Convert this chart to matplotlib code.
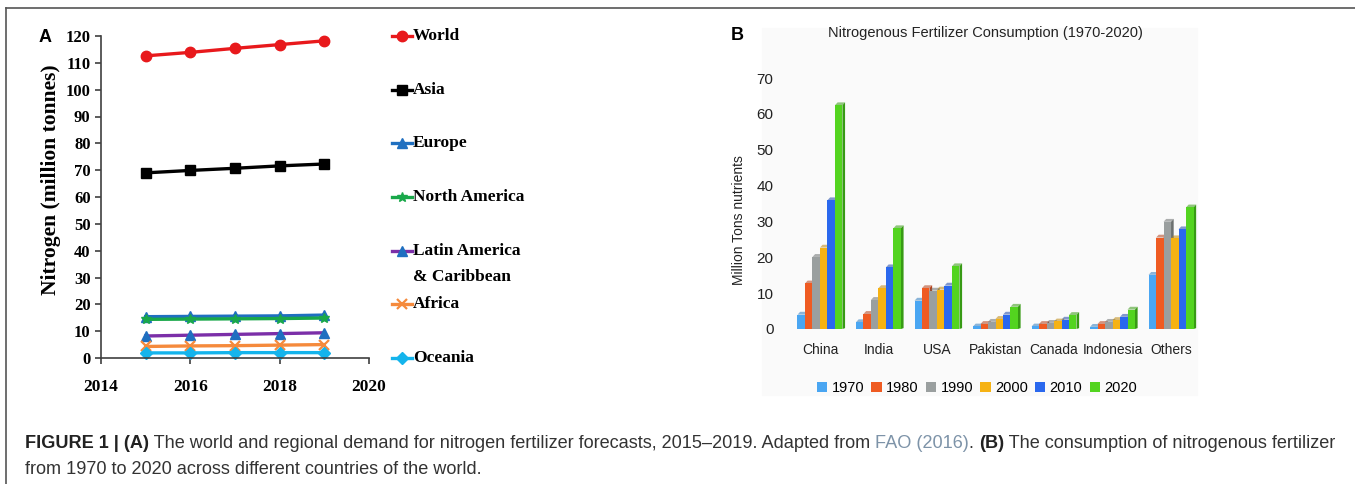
import matplotlib.pyplot as plt
import numpy as np
from matplotlib.lines import Line2D
from matplotlib.patches import Polygon, Rectangle

# panel A: regional nitrogen demand forecast (million tonnes)
years_a = [2015, 2016, 2017, 2018, 2019]
world = [112.6, 113.9, 115.4, 116.8, 118.2]
asia = [69.0, 69.9, 70.7, 71.6, 72.3]
europe = [15.4, 15.5, 15.6, 15.7, 16.0]
north_america = [14.4, 14.5, 14.6, 14.7, 14.9]
latin_america = [8.2, 8.5, 8.8, 9.1, 9.4]
africa = [4.3, 4.5, 4.6, 4.8, 5.0]
oceania = [1.9, 1.9, 2.0, 2.0, 2.0]
region_names = ["World", "Asia", "Europe", "North America",
                "Latin America\n& Caribbean", "Africa", "Oceania"]

# panel B: nitrogenous fertilizer consumption (million tons nutrients)
countries = ["China", "India", "USA", "Pakistan", "Canada", "Indonesia", "Others"]
decades = ["1970", "1980", "1990", "2000", "2010", "2020"]
c1970 = [4.0, 1.9, 7.9, 0.7, 0.7, 0.6, 15.1]
c1980 = [12.7, 4.2, 11.4, 1.4, 1.4, 1.4, 25.5]
c1990 = [20.1, 8.1, 10.7, 2.0, 1.7, 2.0, 29.9]
c2000 = [22.7, 11.4, 11.0, 2.8, 2.1, 2.5, 25.3]
c2010 = [35.9, 17.2, 12.1, 4.0, 2.6, 3.4, 27.8]
c2020 = [62.4, 28.1, 17.5, 6.2, 3.9, 5.4, 33.9]

W, H = 1355, 484
fig = plt.figure(figsize=(W / 100, H / 100), dpi=100)


def fx(px):
    return px / W


def fy(py):
    return 1 - py / H


serif = "Liberation Serif"
sans = "Liberation Sans"

# frame lines (top and left)
fig.add_artist(Line2D([fx(6), 1], [fy(8), fy(8)], color="#555555", lw=1.2))
fig.add_artist(Line2D([fx(6), fx(6)], [fy(8), 0], color="#555555", lw=1.2))

# ---------------- panel A ----------------
axa = fig.add_axes([fx(101), fy(358), fx(369) - fx(101), fy(36) - fy(358)])
styles = [
    dict(color="#e8191c", marker="o", ms=7.5, mfc="#e8191c", mec="#e8191c"),
    dict(color="black", marker="s", ms=7, mfc="black", mec="black"),
    dict(color="#1f6fc0", marker="^", ms=7.5, mfc="#1f6fc0", mec="#1f6fc0"),
    dict(color="#19a84a", marker="*", ms=7.5, mfc="#19a84a", mec="#19a84a"),
    dict(color="#7b2fa8", marker="^", ms=7.5, mfc="#1f6fc0", mec="#1f6fc0"),
    dict(color="#f58a3c", marker="x", ms=7, mfc="#f58a3c", mec="#f58a3c", mew=1.6),
    dict(color="#14b4ec", marker="D", ms=6, mfc="#14b4ec", mec="#14b4ec"),
]
series = [world, asia, europe, north_america, latin_america, africa, oceania]
for vals, st in zip(series, styles):
    axa.plot(years_a, vals, lw=2.4, clip_on=False, **st)

axa.set_xlim(2014, 2020)
axa.set_ylim(0, 120)
axa.set_xticks([2014, 2016, 2018, 2020])
axa.set_yticks(np.arange(0, 121, 10))
for s in ["top", "right"]:
    axa.spines[s].set_visible(False)
for s in ["left", "bottom"]:
    axa.spines[s].set_color("#404040")
    axa.spines[s].set_linewidth(1.2)
axa.tick_params(direction="out", length=4, width=1.2, color="#404040")
axa.tick_params(axis="x", pad=11)
for lab in axa.get_xticklabels():
    lab.set_fontfamily(serif)
    lab.set_fontweight("bold")
    lab.set_fontsize(12.5)
for lab in axa.get_yticklabels():
    lab.set_fontfamily(serif)
    lab.set_fontweight("bold")
    lab.set_fontsize(12)
axa.set_ylabel("Nitrogen (million tonnes)", fontfamily=serif, fontweight="bold",
               fontsize=15.5)
axa.yaxis.set_label_coords((61 - 101) / 268, (358 - 180) / 322)
fig.text(fx(45), fy(37), "A", fontfamily=sans, fontweight="bold", fontsize=13,
         ha="center", va="center")

# manual legend, entries spread down the right of panel A
leg_y = np.linspace(36, 358, len(region_names))
for name, st, py in zip(region_names, styles, leg_y):
    fig.add_artist(Line2D([fx(392), fx(412)], [fy(py), fy(py)], lw=2.4, color=st["color"]))
    mk = {k: v for k, v in st.items() if k != "color"}
    fig.add_artist(Line2D([fx(402)], [fy(py)], lw=0, **mk))
    for i, line in enumerate(name.split("\n")):
        fig.text(fx(413), fy(py + 26 * i), line, fontfamily=serif, fontweight="bold",
                 fontsize=12.5, ha="left", va="center")

# ---------------- panel B ----------------
fig.patches.append(Rectangle((fx(762), fy(395)), fx(1197) - fx(762), fy(28) - fy(395),
                             transform=fig.transFigure, color="#fafafa", zorder=-5))
axb = fig.add_axes([fx(779), fy(329), fx(1212) - fx(779), fy(78) - fy(329)])
axb.patch.set_alpha(0)
colors = ["#4aa6f2", "#ef5b22", "#9a9f9f", "#f6b213", "#2a68ee", "#53d41f"]
darks = ["#2f7bbd", "#b2401a", "#6c7070", "#bd870c", "#1b47a8", "#379a14"]
bar_sets = [c1970, c1980, c1990, c2000, c2010, c2020]
xc = np.arange(len(countries))
bw = 0.128
dx, dy = 0.045, 0.8
handles = []
for j, (vals, col, dk, dec) in enumerate(zip(bar_sets, colors, darks, decades)):
    xs = xc + (j - 2.5) * bw
    b = axb.bar(xs, vals, width=bw, color=col, linewidth=0, zorder=2 + 2 * j, label=dec)
    handles.append(b)
    for x, v in zip(xs, vals):
        r = x + bw / 2
        side = Polygon([(r, 0), (r + dx, dy * 0.3), (r + dx, v + dy), (r, v)],
                       closed=True, color=dk, lw=0, zorder=1 + 2 * j)
        top = Polygon([(x - bw / 2, v), (x - bw / 2 + dx, v + dy), (r + dx, v + dy), (r, v)],
                      closed=True, color=dk, alpha=0.55, lw=0, zorder=1 + 2 * j)
        axb.add_patch(side)
        axb.add_patch(top)

axb.set_xlim(-0.7, 6.7)
axb.set_ylim(0, 70)
axb.set_yticks(np.arange(0, 71, 10))
axb.set_xticks(xc)
axb.set_xticklabels(countries)
for s in axb.spines.values():
    s.set_visible(False)
axb.tick_params(length=0, labelcolor="#222222")
axb.tick_params(axis="x", pad=10, labelsize=10)
axb.tick_params(axis="y", pad=4, labelsize=11)
for lab in axb.get_xticklabels() + axb.get_yticklabels():
    lab.set_fontfamily(sans)
axb.set_ylabel("Million Tons nutrients", fontfamily=sans, fontsize=10, color="#222222")
axb.yaxis.set_label_coords((746 - 779) / 433, (329 - 220) / 251)
axb.legend(handles=handles, loc="center", bbox_to_anchor=(fx(977), fy(388)),
           bbox_transform=fig.transFigure, ncol=6, frameon=False,
           prop={"family": sans, "size": 10.5}, handlelength=0.7, handleheight=0.7,
           handletextpad=0.3, columnspacing=0.5)
fig.text(fx(985), fy(33), "Nitrogenous Fertilizer Consumption (1970-2020)",
         fontfamily=sans, fontsize=10.5, color="#222222", ha="center", va="center")
fig.text(fx(737), fy(36), "B", fontfamily=sans, fontweight="bold", fontsize=13,
         ha="center", va="center")

# ---------------- caption ----------------
line1 = [("FIGURE 1 | (A)", "bold", "#222222"),
         (" The world and regional demand for nitrogen fertilizer forecasts, 2015\u20132019. Adapted from ",
          "normal", "#333333"),
         ("FAO (2016)", "normal", "#7d93a8"),
         (". ", "normal", "#333333"),
         ("(B)", "bold", "#222222"),
         (" The consumption of nitrogenous fertilizer", "normal", "#333333")]
line2 = [("from 1970 to 2020 across different countries of the world.", "normal", "#333333")]

renderer = fig.canvas.get_renderer()
cap_size = 11


def put_line(parts, py, size):
    x = 25
    arts = []
    for txt, wt, col in parts:
        t = fig.text(fx(x), fy(py), txt, fontfamily=sans, fontweight=wt, color=col,
                     fontsize=size, ha="left", va="center")
        x += t.get_window_extent(renderer).width
        arts.append(t)
    return x, arts


end, arts = put_line(line1, 443, cap_size)
for a in arts:
    a.remove()
cap_size = cap_size * (1338 - 25) / (end - 25)
put_line(line1, 443, cap_size)
put_line(line2, 469, cap_size)

fig.savefig("out.png", dpi=100)
